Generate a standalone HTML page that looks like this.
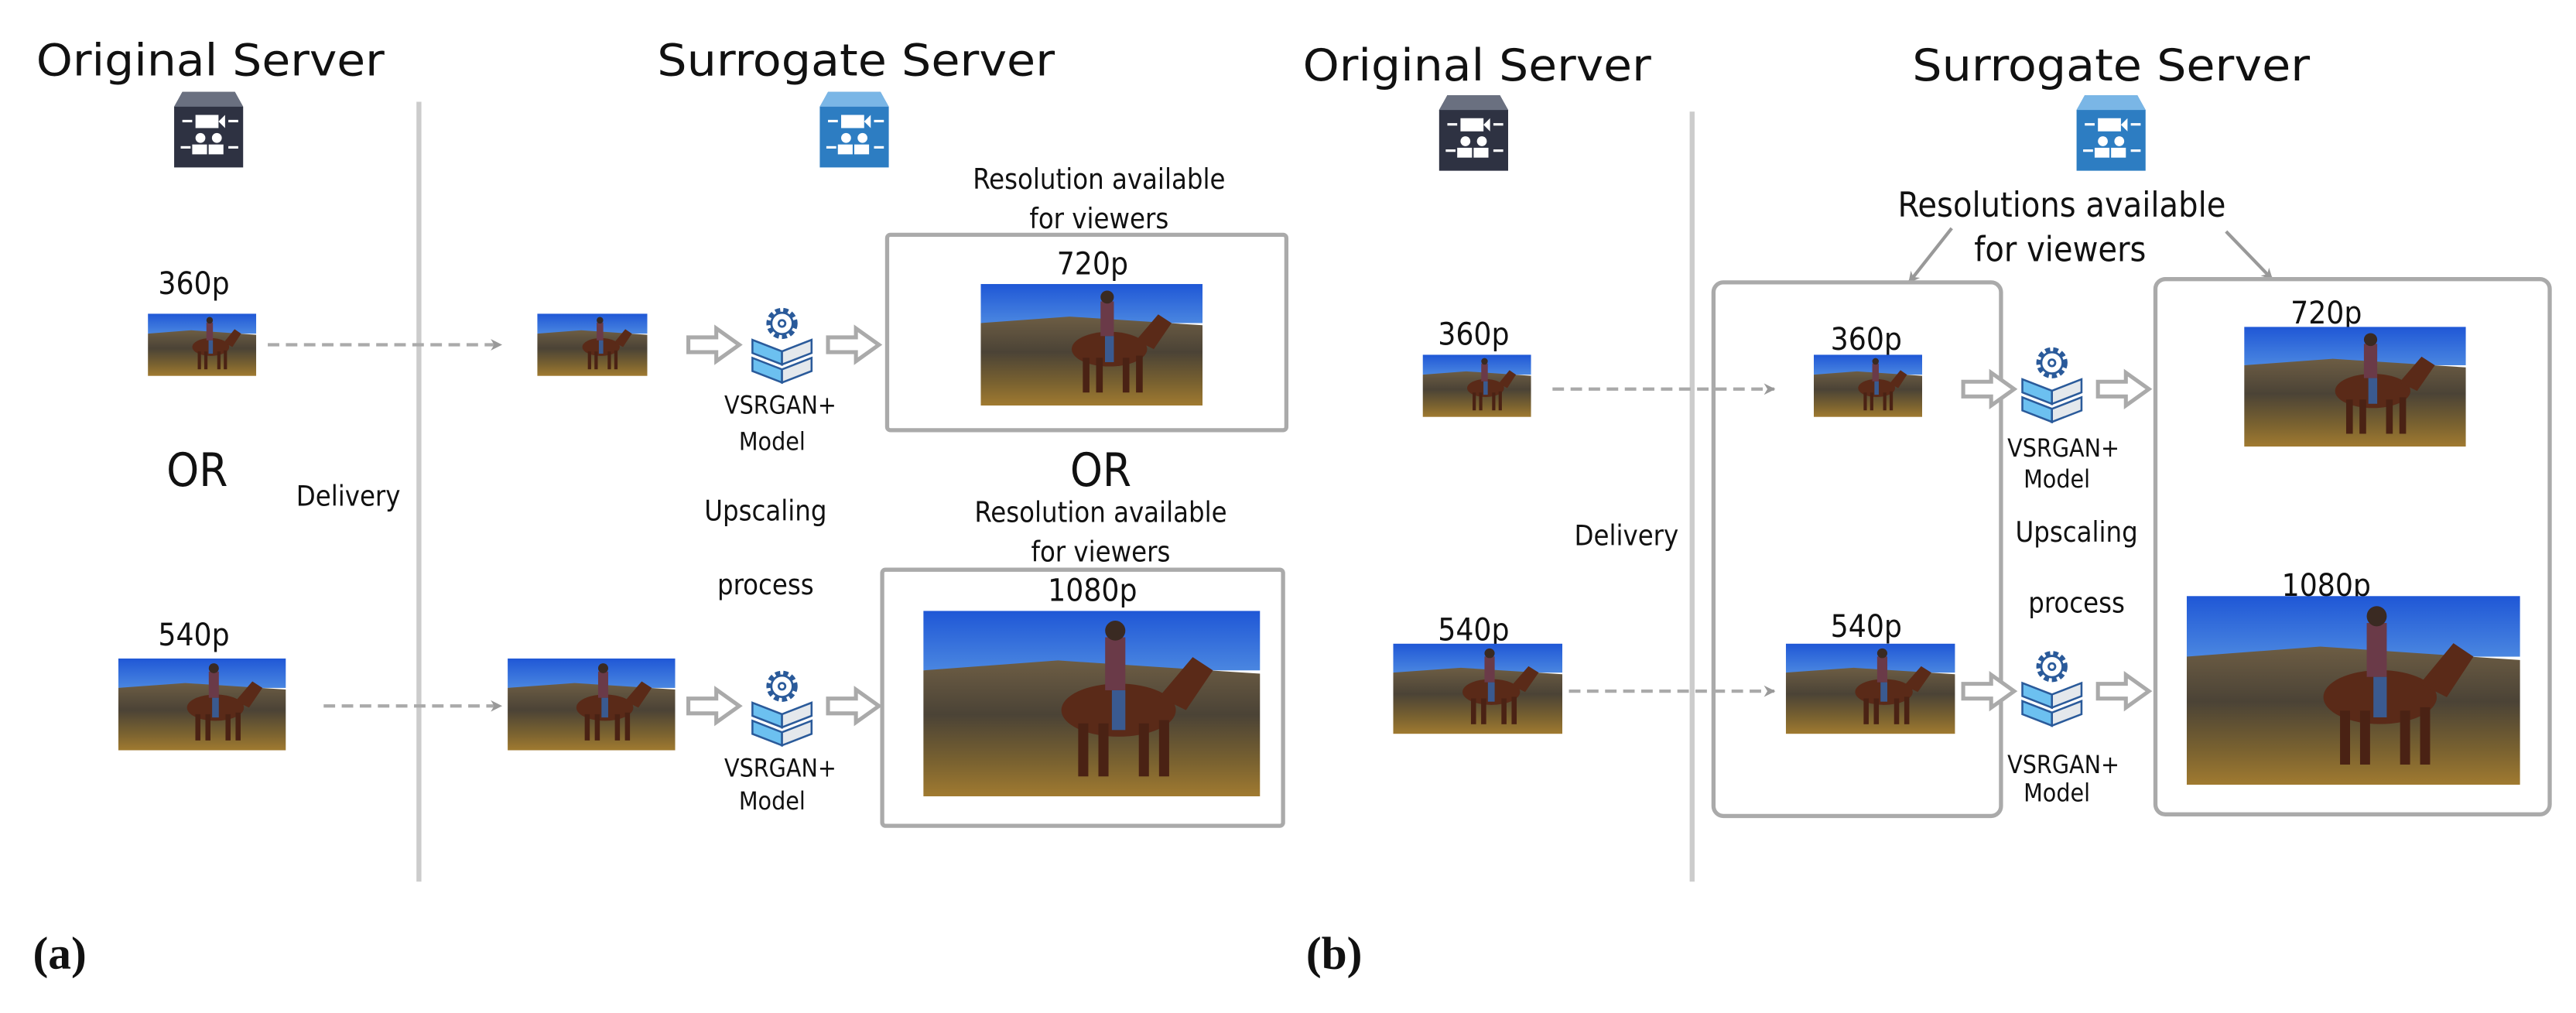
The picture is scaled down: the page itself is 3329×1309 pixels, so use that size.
<!DOCTYPE html>
<html><head><meta charset="utf-8"><style>
html,body{margin:0;padding:0;background:#fff;}
svg{display:block;}
text{font-family:"DejaVu Sans Condensed","DejaVu Sans","Liberation Sans",sans-serif;fill:#111;}
</style></head><body>
<svg width="3329" height="1309" viewBox="0 0 1568 617" preserveAspectRatio="none" xmlns="http://www.w3.org/2000/svg">
<defs>
  <symbol id="pic" viewBox="0 0 100 56" preserveAspectRatio="none">
    <linearGradient id="sky" x1="0" y1="0" x2="0" y2="1">
      <stop offset="0" stop-color="#1f57d6"/><stop offset="1" stop-color="#4a86e0"/>
    </linearGradient>
    <linearGradient id="gr" x1="0" y1="0" x2="0" y2="1">
      <stop offset="0" stop-color="#6d5d44"/><stop offset="0.4" stop-color="#4b4336"/><stop offset="0.75" stop-color="#7a6230"/><stop offset="1" stop-color="#a07a30"/>
    </linearGradient>
    <rect x="0" y="0" width="100" height="18" fill="url(#sky)"/>
    <polygon points="0,18 40,15 100,19 100,56 0,56" fill="url(#gr)"/>
    <ellipse cx="58" cy="30" rx="17" ry="8" fill="#5a2a18"/>
    <polygon points="70,26 80,14 86,18 78,30" fill="#5a2a18"/>
    <rect x="46" y="34" width="3" height="16" fill="#4a2214"/>
    <rect x="52" y="34" width="3" height="16" fill="#4a2214"/>
    <rect x="64" y="34" width="3" height="16" fill="#4a2214"/>
    <rect x="70" y="33" width="3" height="17" fill="#4a2214"/>
    <rect x="54" y="8" width="6" height="16" fill="#6a3a48"/>
    <circle cx="57" cy="6" r="3" fill="#3a2a22"/>
    <rect x="56" y="24" width="4" height="12" fill="#3a5a90"/>
  </symbol>
  <g id="arrow"><polygon points="0,-4.5 17,-4.5 17,-10 31,0 17,10 17,4.5 0,4.5" fill="#fff" stroke="#aaa" stroke-width="2.4"/></g>
  <g id="model">
    <g fill="#fff" stroke="#2a5a9a" stroke-width="1.3">
      <circle cx="19" cy="10" r="8" stroke-dasharray="3 1.8" stroke-width="3"/>
      <circle cx="19" cy="10" r="6.5" fill="#fff"/>
      <circle cx="19" cy="10" r="2"/>
    </g>
    <g stroke="#2a5a9a" stroke-width="1.2">
      <polygon points="1,20 19,27 19,35 1,28" fill="#6cc0f0"/>
      <polygon points="19,27 37,20 37,28 19,35" fill="#e4e8ec"/>
      <polygon points="1,31 19,38 19,46 1,39" fill="#6cc0f0"/>
      <polygon points="19,38 37,31 37,39 19,46" fill="#e4e8ec"/>
    </g>
  </g>
  <g id="dark">
    <polygon points="5,0 37,0 42,9 42,46 0,46 0,9" fill="#2e3242"/>
    <polygon points="5,0 37,0 42,9 0,9" fill="#6a7080"/>
    <g fill="#fff"><rect x="13" y="14" width="14" height="8"/><polygon points="27,18 31,14 31,22"/>
    <circle cx="16" cy="28" r="3"/><circle cx="26" cy="28" r="3"/><rect x="11" y="32" width="9" height="6"/><rect x="21" y="32" width="9" height="6"/>
    <rect x="5" y="17" width="6" height="1.5"/><rect x="33" y="17" width="6" height="1.5"/><rect x="4" y="33" width="6" height="1.5"/><rect x="33" y="33" width="6" height="1.5"/></g>
  </g>
  <g id="blue">
    <polygon points="5,0 37,0 42,9 42,46 0,46 0,9" fill="#2d7dc2"/>
    <polygon points="5,0 37,0 42,9 0,9" fill="#7ab6e6"/>
    <g fill="#fff"><rect x="13" y="14" width="14" height="8"/><polygon points="27,18 31,14 31,22"/>
    <circle cx="16" cy="28" r="3"/><circle cx="26" cy="28" r="3"/><rect x="11" y="32" width="9" height="6"/><rect x="21" y="32" width="9" height="6"/>
    <rect x="5" y="17" width="6" height="1.5"/><rect x="33" y="17" width="6" height="1.5"/><rect x="4" y="33" width="6" height="1.5"/><rect x="33" y="33" width="6" height="1.5"/></g>
  </g>
  <marker id="ah" viewBox="0 0 10 10" refX="9" refY="5" markerWidth="7" markerHeight="7" markerUnits="userSpaceOnUse" orient="auto"><polygon points="0,0 10,5 0,10 3,5" fill="#999"/></marker>
</defs>

<!-- ===== Panel (a) ===== -->
<text x="128" y="46" font-size="27" text-anchor="middle" textLength="212" lengthAdjust="spacingAndGlyphs">Original Server</text>
<use href="#dark" x="106" y="56"/>
<line x1="255" y1="62" x2="255" y2="537" stroke="#ccc" stroke-width="3"/>
<text x="521" y="46" font-size="27" text-anchor="middle" textLength="242" lengthAdjust="spacingAndGlyphs">Surrogate Server</text>
<use href="#blue" x="499" y="56"/>

<text x="669" y="115" font-size="17" text-anchor="middle">Resolution available</text>
<text x="669" y="139" font-size="17" text-anchor="middle">for viewers</text>
<rect x="540" y="143" width="243" height="119" fill="none" stroke="#aaa" stroke-width="2.5" rx="2"/>
<text x="665" y="167" font-size="19" text-anchor="middle">720p</text>
<svg x="597" y="173" width="135" height="74"><use href="#pic" width="135" height="74"/></svg>

<text x="118" y="179" font-size="19" text-anchor="middle">360p</text>
<svg x="90" y="191" width="66" height="38"><use href="#pic" width="66" height="38"/></svg>
<line x1="163" y1="210" x2="305" y2="210" stroke="#aaa" stroke-width="2" stroke-dasharray="7 4" marker-end="url(#ah)"/>
<svg x="327" y="191" width="67" height="38"><use href="#pic" width="67" height="38"/></svg>
<use href="#arrow" x="419" y="210"/>
<use href="#model" x="457" y="187"/>
<use href="#arrow" x="504" y="210"/>
<text x="475" y="252" font-size="15" text-anchor="middle">VSRGAN+</text>
<text x="470" y="274" font-size="15" text-anchor="middle">Model</text>

<text x="120" y="296" font-size="28" text-anchor="middle">OR</text>
<text x="212" y="308" font-size="17" text-anchor="middle">Delivery</text>
<text x="670" y="296" font-size="28" text-anchor="middle">OR</text>
<text x="670" y="318" font-size="17" text-anchor="middle">Resolution available</text>
<text x="670" y="342" font-size="17" text-anchor="middle">for viewers</text>
<text x="466" y="317" font-size="17" text-anchor="middle">Upscaling</text>
<text x="466" y="362" font-size="17" text-anchor="middle">process</text>

<rect x="537" y="347" width="244" height="156" fill="none" stroke="#aaa" stroke-width="2.5" rx="2"/>
<text x="665" y="366" font-size="19" text-anchor="middle">1080p</text>
<svg x="562" y="372" width="205" height="113"><use href="#pic" width="205" height="113"/></svg>

<text x="118" y="393" font-size="19" text-anchor="middle">540p</text>
<svg x="72" y="401" width="102" height="56"><use href="#pic" width="102" height="56"/></svg>
<line x1="197" y1="430" x2="305" y2="430" stroke="#aaa" stroke-width="2" stroke-dasharray="7 4" marker-end="url(#ah)"/>
<svg x="309" y="401" width="102" height="56"><use href="#pic" width="102" height="56"/></svg>
<use href="#arrow" x="419" y="430"/>
<use href="#model" x="457" y="408"/>
<use href="#arrow" x="504" y="430"/>
<text x="475" y="473" font-size="15" text-anchor="middle">VSRGAN+</text>
<text x="470" y="493" font-size="15" text-anchor="middle">Model</text>

<text x="20" y="590" font-size="28" style="font-family:'Liberation Serif',serif" font-weight="bold">(a)</text>

<!-- ===== Panel (b) ===== -->
<text x="899" y="49" font-size="27" text-anchor="middle" textLength="212" lengthAdjust="spacingAndGlyphs">Original Server</text>
<use href="#dark" x="876" y="58"/>
<line x1="1030" y1="68" x2="1030" y2="537" stroke="#ccc" stroke-width="3"/>
<text x="1285" y="49" font-size="27" text-anchor="middle" textLength="242" lengthAdjust="spacingAndGlyphs">Surrogate Server</text>
<use href="#blue" x="1264" y="58"/>

<text x="1255" y="132" font-size="21" text-anchor="middle">Resolutions available</text>
<text x="1254" y="159" font-size="21" text-anchor="middle">for viewers</text>
<line x1="1188" y1="139" x2="1162" y2="172" stroke="#999" stroke-width="2" marker-end="url(#ah)"/>
<line x1="1355" y1="141" x2="1383" y2="170" stroke="#999" stroke-width="2" marker-end="url(#ah)"/>

<rect x="1043" y="172" width="175" height="325" fill="none" stroke="#aaa" stroke-width="2.5" rx="6"/>
<rect x="1312" y="170" width="240" height="326" fill="none" stroke="#aaa" stroke-width="2.5" rx="6"/>

<text x="897" y="210" font-size="19" text-anchor="middle">360p</text>
<svg x="866" y="216" width="66" height="38"><use href="#pic" width="66" height="38"/></svg>
<line x1="945" y1="237" x2="1080" y2="237" stroke="#aaa" stroke-width="2" stroke-dasharray="7 4" marker-end="url(#ah)"/>
<text x="1136" y="213" font-size="19" text-anchor="middle">360p</text>
<svg x="1104" y="216" width="66" height="38"><use href="#pic" width="66" height="38"/></svg>
<use href="#arrow" x="1195" y="237"/>
<use href="#model" x="1230" y="211"/>
<use href="#arrow" x="1277" y="237"/>
<text x="1256" y="278" font-size="15" text-anchor="middle">VSRGAN+</text>
<text x="1252" y="297" font-size="15" text-anchor="middle">Model</text>

<text x="1416" y="197" font-size="19" text-anchor="middle">720p</text>
<svg x="1366" y="199" width="135" height="73"><use href="#pic" width="135" height="73"/></svg>

<text x="990" y="332" font-size="17" text-anchor="middle">Delivery</text>
<text x="1264" y="330" font-size="17" text-anchor="middle">Upscaling</text>
<text x="1264" y="373" font-size="17" text-anchor="middle">process</text>

<text x="897" y="390" font-size="19" text-anchor="middle">540p</text>
<svg x="848" y="392" width="103" height="55"><use href="#pic" width="103" height="55"/></svg>
<line x1="955" y1="421" x2="1080" y2="421" stroke="#aaa" stroke-width="2" stroke-dasharray="7 4" marker-end="url(#ah)"/>
<text x="1136" y="388" font-size="19" text-anchor="middle">540p</text>
<svg x="1087" y="392" width="103" height="55"><use href="#pic" width="103" height="55"/></svg>
<use href="#arrow" x="1195" y="421"/>
<use href="#model" x="1230" y="396"/>
<use href="#arrow" x="1277" y="421"/>
<text x="1256" y="471" font-size="15" text-anchor="middle">VSRGAN+</text>
<text x="1252" y="488" font-size="15" text-anchor="middle">Model</text>

<text x="1416" y="363" font-size="19" text-anchor="middle">1080p</text>
<svg x="1331" y="363" width="203" height="115"><use href="#pic" width="203" height="115"/></svg>

<text x="795" y="590" font-size="28" style="font-family:'Liberation Serif',serif" font-weight="bold">(b)</text>
</svg>
</body></html>
